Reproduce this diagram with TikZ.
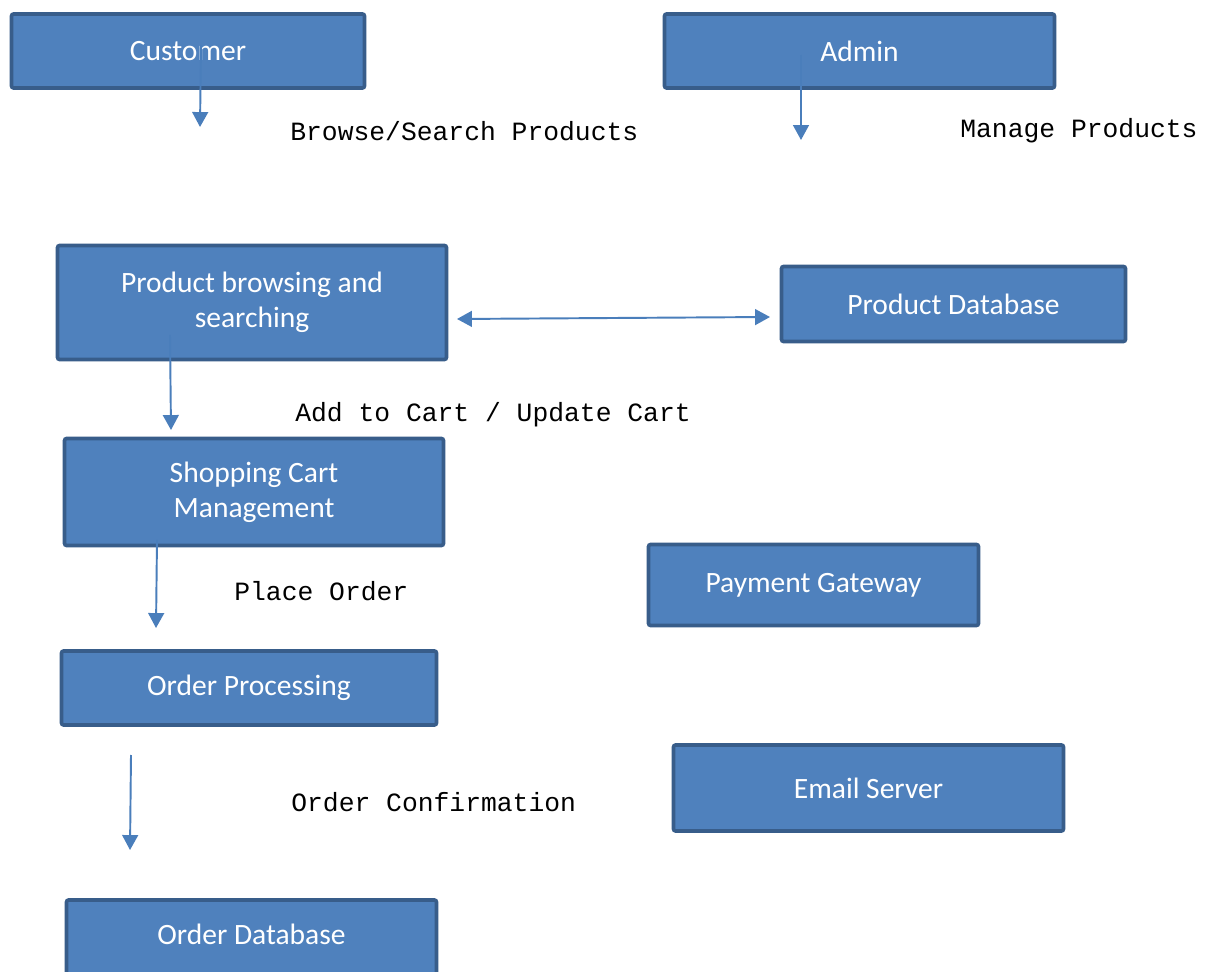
\documentclass[tikz,border=0pt]{standalone}
\usepackage{fontspec}
\setmainfont{Carlito}
\newfontfamily\monofnt{Liberation Mono}
\usetikzlibrary{arrows.meta}
\definecolor{boxfill}{HTML}{4F81BD}
\definecolor{boxline}{HTML}{385D8A}
\definecolor{arrowc}{HTML}{4A7EBB}
\tikzset{
  box/.style={draw=boxline, fill=boxfill, line width=2.1pt, rounded corners=1.2pt,
    text=white, font=\fontsize{16.8}{20}\selectfont, align=center, inner sep=0pt},
  flow/.style={draw=arrowc, line width=1.1pt, -{Triangle[length=8.5pt,width=9pt]}},
  flowboth/.style={draw=arrowc, line width=1.1pt, {Triangle[length=8.5pt,width=9pt]}-{Triangle[length=8.5pt,width=9pt]}},
  lbl/.style={font=\monofnt\fontsize{15}{18}\selectfont, anchor=west, inner sep=0pt}
}
\begin{document}
\begin{tikzpicture}[x=0.02cm, y=-0.02cm]
\useasboundingbox (0,0) rectangle (1207,972);
\clip (0,0) rectangle (1207,972);
\fill[white] (0,0) rectangle (1207,972);
% boxes
\node[box, minimum width=7.06cm, minimum height=1.48cm] (cust) at (188,51) {Customer};
\node[box, minimum width=7.80cm, minimum height=1.48cm] (admin) at (859.5,51) {Admin};
\node[box, minimum width=7.78cm, minimum height=2.28cm] (pbs) at (252,302.5) {Product browsing and\\searching};
\node[box, minimum width=6.88cm, minimum height=1.50cm] (pdb) at (953.5,304) {Product Database};
\node[box, minimum width=7.58cm, minimum height=2.14cm] (cart) at (254,492) {Shopping Cart\\Management};
\node[box, minimum width=6.60cm, minimum height=1.62cm] (pay) at (813.5,585) {Payment Gateway};
\node[box, minimum width=7.50cm, minimum height=1.48cm] (op) at (249,688) {Order Processing};
\node[box, minimum width=7.80cm, minimum height=1.72cm] (mail) at (868.5,788) {Email Server};
\node[box, minimum width=7.40cm, minimum height=1.80cm, text depth=0pt] (odb) at (251.5,945) {\raisebox{1.5ex}{Order Database}};
% labels
\node[lbl] (l1) at (290,131) {Browse/Search Products};
\node[lbl] (l2) at (960,131) {Manage Products};
\node[lbl] (l3) at (295,415) {Add to Cart / Update Cart};
\node[lbl] (l4) at (234,591) {Place Order};
\node[lbl] (l5) at (291,802) {Order Confirmation};
% connector end points
\coordinate (c1s) at (201,45);  \coordinate (c1e) at (200,127);
\coordinate (a1s) at (801,55);  \coordinate (a1e) at (801,140);
\coordinate (d1s) at (457,319); \coordinate (d1e) at (770,317);
\coordinate (p1s) at (170,335); \coordinate (p1e) at (171,430);
\coordinate (s1s) at (157,540); \coordinate (s1e) at (156,628);
\coordinate (o1s) at (131,755); \coordinate (o1e) at (130,850);
\draw[flow] (c1s) -- (c1e);
\draw[flow] (a1s) -- (a1e);
\draw[flowboth] (d1s) -- (d1e);
\draw[flow] (p1s) -- (p1e);
\draw[flow] (s1s) -- (s1e);
\draw[flow] (o1s) -- (o1e);
\end{tikzpicture}
\end{document}
